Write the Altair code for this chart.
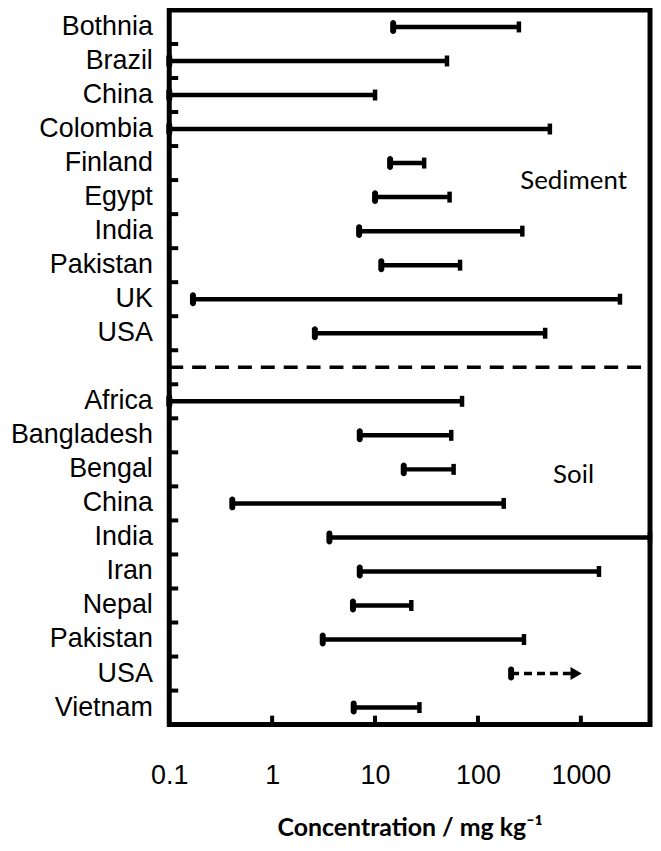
import altair as alt
import pandas as pd

# ---- data ----
sed_names = ["Bothnia", "Brazil", "China", "Colombia", "Finland", "Egypt", "India", "Pakistan", "UK", "USA"]
sed_low = [15, 0.1, 0.1, 0.1, 14, 10, 7, 11.5, 0.17, 2.6]
sed_high = [250, 50, 10, 500, 30, 53, 270, 67, 2400, 450]

soil_names = ["Africa", "Bangladesh", "Bengal", "China", "India", "Iran", "Nepal", "Pakistan", "USA", "Vietnam"]
soil_low = [0.1, 7.1, 19, 0.41, 3.6, 7.1, 6.1, 3.1, 210, 6.2]
soil_high = [70, 55, 58, 178, 4700, 1500, 22.5, 280, 850, 27]
soil_open = [False, False, False, False, False, False, False, False, True, False]  # USA: open-ended (arrow)
arrow_tip = 900

x_ticks = [1, 10, 100, 1000]
x_labels = [0.1, 1, 10, 100, 1000]
x_max = 4700

W, H = 483, 718

rows = []
for n, lo, hi in zip(sed_names, sed_low, sed_high):
    rows.append({"key": "Sediment|" + n, "low": lo, "high": hi, "open": False})
for n, lo, hi, op in zip(soil_names, soil_low, soil_high, soil_open):
    rows.append({"key": "Soil|" + n, "low": lo, "high": hi, "open": op})
df = pd.DataFrame(rows)

keys = ["Sediment|" + n for n in sed_names] + ["sep|"] + ["Soil|" + n for n in soil_names]

xscale = alt.Scale(type="log", domain=[0.1, x_max], nice=False)
yscale = alt.Scale(domain=keys, paddingInner=0, paddingOuter=0)

xaxis = alt.Axis(
    values=x_labels, format="~g", title="Concentration / mg kg\u207b\u00b9",
    domain=False, ticks=False, grid=False, labelFont="Liberation Sans",
    labelFontSize=27, labelColor="black", labelPadding=38, labelFlush=False,
    titleFont="Lato", titleFontSize=25, titleFontWeight="bold", titleColor="black",
    titlePadding=27)
yaxis = alt.Axis(
    title=None, domain=False, ticks=False, grid=False,
    labelExpr="split(datum.label,'|')[1]", labelFont="Liberation Sans",
    labelFontSize=27, labelColor="black", labelPadding=17,
    minExtent=162, maxExtent=162)


def X(f):
    return alt.X(f, scale=xscale, axis=xaxis)


def Ym(bp=0.5):
    return alt.Y("key:N", scale=yscale, axis=yaxis, bandPosition=bp)


solid = alt.Chart(df).transform_filter("!datum.open")
opened = alt.Chart(df).transform_filter("datum.open")

bars = solid.mark_rule(color="black", strokeWidth=4.5).encode(
    x=X("low:Q"), x2="high:Q", y=Ym())

dashbar = opened.mark_rule(color="black", strokeWidth=3.5, strokeDash=[8, 5]).encode(
    x=X("low:Q"), x2="high:Q", y=Ym())

arrow_df = pd.DataFrame({"key": ["Soil|USA"], "x": [arrow_tip]})
arrow = alt.Chart(arrow_df).mark_point(shape="triangle-right", filled=True, color="black",
                                       size=170, opacity=1).encode(x=X("x:Q"), y=Ym())

lcap = alt.Chart(df).mark_tick(color="black", size=14, thickness=6, cornerRadius=3, opacity=1).encode(
    x=X("low:Q"), y=Ym())
rcap = solid.mark_tick(color="black", size=11, thickness=4.5, opacity=1).encode(
    x=X("high:Q"), y=Ym())

# inward ticks on the left frame, at the row boundaries
ytick_df = pd.DataFrame({"key": keys[1:]})
yticks = alt.Chart(ytick_df).mark_rule(color="black", strokeWidth=4).encode(
    y=Ym(0), x=alt.value(0), x2=alt.value(9))

# inward ticks on the bottom frame
xtick_df = pd.DataFrame({"v": x_ticks})
xticks = alt.Chart(xtick_df).mark_rule(color="black", strokeWidth=4).encode(
    x=X("v:Q"), y=alt.value(H), y2=alt.value(H - 9))

sep_df = pd.DataFrame({"key": ["sep|"]})
sep = alt.Chart(sep_df).mark_rule(color="black", strokeWidth=3.5, strokeDash=[14, 9]).encode(
    y=Ym(), x=alt.value(0), x2=alt.value(W))

txt_df = pd.DataFrame({"key": ["Sediment|Egypt", "Soil|Bengal"], "x": [850, 850],
                       "t": ["Sediment", "Soil"]})
txt1 = alt.Chart(txt_df.iloc[[0]]).mark_text(font="Lato", fontSize=26, color="black", dy=-16).encode(
    x=X("x:Q"), y=Ym(), text="t:N")
txt2 = alt.Chart(txt_df.iloc[[1]]).mark_text(font="Lato", fontSize=26, color="black", dy=6).encode(
    x=X("x:Q"), y=Ym(), text="t:N")

chart = alt.layer(yticks, xticks, sep, bars, dashbar, arrow, lcap, rcap, txt1, txt2).properties(
    width=W, height=H, background="white",
    padding={"left": 0, "top": 0, "right": 0, "bottom": 0}
).configure_view(stroke="black", strokeWidth=5)

chart.save("out.html", embed_options={"renderer": "svg", "actions": False})
